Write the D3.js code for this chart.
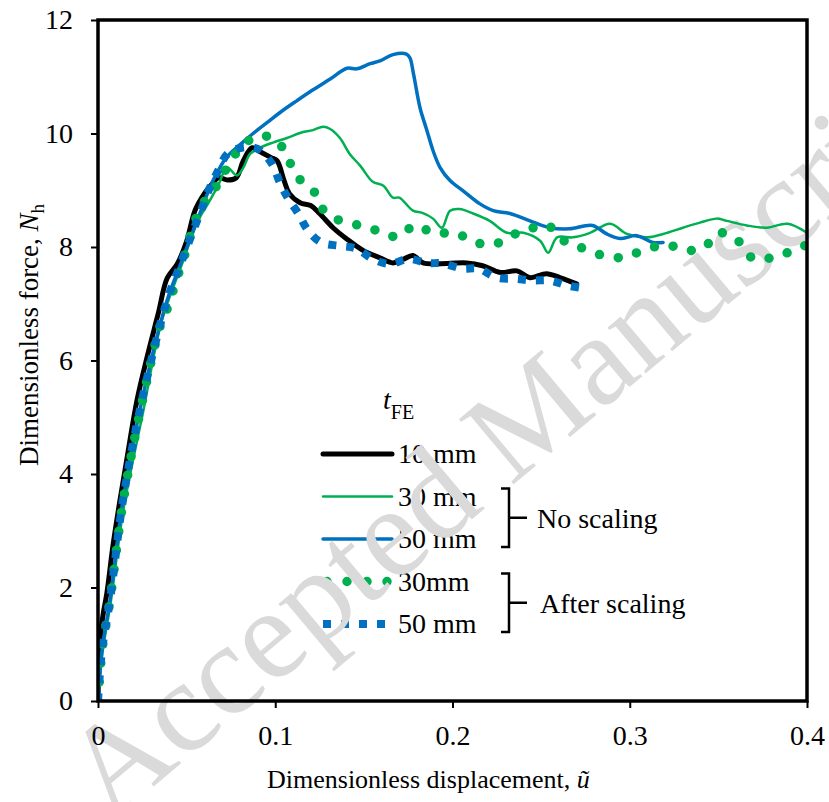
<!DOCTYPE html>
<html><head><meta charset="utf-8">
<script src="https://cdn.jsdelivr.net/npm/d3@7"></script>
<style>body{margin:0;background:#fff} svg{display:block} text{font-family:"Liberation Serif","Times New Roman",serif;fill:#000}</style>
</head><body><svg id="chart" width="829" height="802"></svg>
<script>
// ---- data ----
const xTicks = [0, 0.1, 0.2, 0.3, 0.4];
const xTickLabels = ["0", "0.1", "0.2", "0.3", "0.4"];
const yTicks = [0, 2, 4, 6, 8, 10, 12];
const yTickLabels = ["0", "2", "4", "6", "8", "10", "12"];

// 10 mm (black)
const s10mm = [[0,0],[0.0005,0.6],[0.0015,1.2],[0.003,1.55],[0.005,1.9],[0.0085,2.75],[0.0124,3.54],[0.017,4.4],[0.022,5.3],[0.028,6.1],[0.034,6.83],[0.039,7.45],[0.0447,7.7],[0.05,8.1],[0.0547,8.64],[0.060,8.94],[0.064,9.1],[0.068,9.22],[0.073,9.18],[0.078,9.22],[0.082,9.52],[0.087,9.75],[0.0925,9.66],[0.098,9.57],[0.101,9.52],[0.105,9.17],[0.108,8.94],[0.114,8.78],[0.12,8.73],[0.125,8.59],[0.1326,8.34],[0.140,8.15],[0.1495,7.94],[0.159,7.81],[0.1664,7.72],[0.172,7.78],[0.1777,7.85],[0.1834,7.72],[0.197,7.71],[0.208,7.72],[0.217,7.67],[0.227,7.55],[0.2364,7.58],[0.2437,7.46],[0.253,7.53],[0.2606,7.46],[0.27,7.35]];

// 30 mm, no scaling (green solid)
const s30mmNo = [[0,0],[0.0025,0.85],[0.007,1.7],[0.0145,3.4],[0.0255,5.1],[0.036,6.7],[0.0474,7.7],[0.0564,8.46],[0.062,8.76],[0.068,9.1],[0.0728,9.4],[0.0784,9.26],[0.082,9.4],[0.0858,9.64],[0.0914,9.75],[0.0987,9.84],[0.1066,9.92],[0.114,10.01],[0.1213,10.06],[0.127,10.12],[0.131,10.08],[0.1365,9.92],[0.142,9.64],[0.148,9.43],[0.155,9.15],[0.161,9.08],[0.1664,8.87],[0.170,8.87],[0.1777,8.64],[0.183,8.6],[0.189,8.5],[0.194,8.34],[0.1986,8.64],[0.204,8.67],[0.2116,8.59],[0.221,8.46],[0.2307,8.25],[0.24,8.25],[0.2494,8.11],[0.254,7.9],[0.259,8.17],[0.268,8.17],[0.2776,8.25],[0.2889,8.41],[0.2985,8.23],[0.31,8.17],[0.3188,8.23],[0.33,8.34],[0.3396,8.43],[0.349,8.5],[0.3548,8.46],[0.366,8.38],[0.3774,8.34],[0.389,8.41],[0.4,8.25]];

// 50 mm, no scaling (blue solid)
const s50mmNo = [[0,0],[0.0023,0.9],[0.0068,1.78],[0.0141,3.54],[0.0248,5.3],[0.039,7.06],[0.046,7.65],[0.053,8.23],[0.0587,8.69],[0.063,9.04],[0.0677,9.34],[0.073,9.6],[0.08,9.8],[0.0875,10.0],[0.0953,10.19],[0.1027,10.37],[0.1123,10.58],[0.1213,10.77],[0.131,10.96],[0.1405,11.15],[0.146,11.14],[0.1535,11.23],[0.159,11.28],[0.1664,11.39],[0.174,11.4],[0.176,11.33],[0.178,11.05],[0.1817,10.45],[0.1856,10.05],[0.189,9.7],[0.193,9.4],[0.1986,9.17],[0.206,8.99],[0.2155,8.76],[0.223,8.64],[0.2324,8.59],[0.2437,8.46],[0.255,8.34],[0.266,8.32],[0.279,8.38],[0.287,8.23],[0.2945,8.15],[0.304,8.2],[0.313,8.08],[0.3188,8.08]];

// 30 mm, after scaling (green round dots)
const s30mmSc = [[0,0],[0.0023,0.9],[0.0068,1.78],[0.0141,3.5],[0.0248,5.25],[0.036,6.7],[0.0406,7.02],[0.0434,7.36],[0.0474,7.7],[0.0547,8.46],[0.0604,8.82],[0.0677,9.11],[0.0733,9.43],[0.08,9.73],[0.0903,9.96],[0.101,9.87],[0.1072,9.55],[0.113,9.22],[0.122,8.97],[0.1275,8.64],[0.1354,8.48],[0.146,8.39],[0.1574,8.29],[0.1693,8.18],[0.1788,8.38],[0.1896,8.24],[0.2014,8.25],[0.2121,8.09],[0.223,8.04],[0.233,8.2],[0.2437,8.32],[0.2533,8.39],[0.2618,8.13],[0.2702,8.02],[0.2815,7.88],[0.2922,7.81],[0.2996,7.85],[0.3103,7.97],[0.321,8.04],[0.3317,7.94],[0.3419,7.99],[0.35,8.25],[0.361,8.11],[0.3695,7.8],[0.380,7.81],[0.389,7.9],[0.4,8.04]];

// 50 mm, after scaling (blue square dots)
const s50mmSc = [[0,0],[0.0023,0.9],[0.0068,1.78],[0.0141,3.54],[0.0248,5.3],[0.039,7.06],[0.046,7.65],[0.053,8.23],[0.0587,8.69],[0.063,9.04],[0.0677,9.34],[0.073,9.64],[0.081,9.75],[0.090,9.73],[0.098,9.47],[0.1027,9.13],[0.107,8.87],[0.113,8.59],[0.1185,8.29],[0.126,8.08],[0.1365,8.02],[0.146,7.97],[0.155,7.79],[0.1647,7.7],[0.175,7.79],[0.1856,7.72],[0.1946,7.71],[0.2054,7.62],[0.2144,7.62],[0.225,7.46],[0.2353,7.44],[0.2454,7.41],[0.255,7.41],[0.265,7.32],[0.2753,7.27]];

const legendLabels = ["10 mm", "30 mm", "50 mm", "30mm", "50 mm"];
const groupLabels = ["No scaling", "After scaling"];

// ---- drawing ----
const svg = d3.select("#chart");
const W = 829, H = 802;
const x = d3.scaleLinear().domain([0, 0.4]).range([98, 807]);
const y = d3.scaleLinear().domain([0, 12]).range([701, 20]);
const FS = 28;

svg.append("rect").attr("width", W).attr("height", H).attr("fill", "#fff");

const styles = [
  {data: s10mm,   color: "#000000", width: 5,   dash: null,   cap: "round"},
  {data: s30mmNo, color: "#00B050", width: 2.5, dash: null,   cap: "round"},
  {data: s50mmNo, color: "#0070C0", width: 3.5, dash: null,   cap: "round"},
  {data: s30mmSc, color: "#00B050", width: 9.5, dash: "0,19", cap: "round"},
  {data: s50mmSc, color: "#0070C0", width: 8,   dash: "8,10", cap: "butt"}
];

// legend (under watermark)
const legend = svg.append("g");
const rowY = [454, 496.5, 539, 581.5, 624];
const t = legend.append("text").attr("x", 383).attr("y", 409).attr("font-size", FS);
t.append("tspan").attr("font-style", "italic").text("t");
t.append("tspan").attr("font-size", 20).attr("dy", 10).text("FE");
styles.forEach((s, i) => {
  const x0 = i === 3 ? 327 : 323;
  legend.append("line").attr("x1", x0).attr("x2", 392).attr("y1", rowY[i]).attr("y2", rowY[i])
    .attr("stroke", s.color).attr("stroke-width", s.width).attr("stroke-linecap", s.cap)
    .attr("stroke-dasharray", i === 3 ? "0,20" : s.dash);
  legend.append("text").attr("x", 398).attr("y", rowY[i] + 9).attr("font-size", FS).text(legendLabels[i]);
});
[[1, 2], [3, 4]].forEach((pair, gi) => {
  const top = rowY[pair[0]] - 8, bot = rowY[pair[1]] + 8, mid = (top + bot) / 2;
  legend.append("path").attr("d", `M501,${top}H509V${bot}H501M509,${mid}H527`)
    .attr("fill", "none").attr("stroke", "#000").attr("stroke-width", 2.5);
  legend.append("text").attr("x", gi === 0 ? 537 : 540).attr("y", mid + 10).attr("font-size", FS).text(groupLabels[gi]);
});

// watermark
svg.append("text").attr("transform", "translate(110,823) rotate(-40)")
  .attr("font-size", 130).style("fill", "#dadada").text("Accepted Manuscript");

// data
svg.append("clipPath").attr("id", "clip").append("rect")
  .attr("x", 98).attr("y", 15).attr("width", 709).attr("height", 686);
const line = d3.line().x(d => x(d[0])).y(d => y(d[1])).curve(d3.curveCatmullRom.alpha(0.5));
const plot = svg.append("g").attr("clip-path", "url(#clip)");
styles.forEach(s => {
  plot.append("path").datum(s.data).attr("d", line).attr("fill", "none")
    .attr("stroke", s.color).attr("stroke-width", s.width)
    .attr("stroke-linecap", s.cap).attr("stroke-linejoin", "round")
    .attr("stroke-dasharray", s.dash);
});

// frame
svg.append("rect").attr("x", 98).attr("y", 20).attr("width", 709).attr("height", 681)
  .attr("fill", "none").attr("stroke", "#000").attr("stroke-width", 3.5);

// axes
const yAx = svg.append("g").attr("transform", "translate(98,0)")
  .call(d3.axisLeft(y).tickValues(yTicks).tickFormat((d, i) => yTickLabels[i]).tickSize(7).tickPadding(18));
const xAx = svg.append("g").attr("transform", "translate(0,701)")
  .call(d3.axisBottom(x).tickValues(xTicks).tickFormat((d, i) => xTickLabels[i]).tickSize(7).tickPadding(17));
[yAx, xAx].forEach(a => {
  a.select(".domain").remove();
  a.selectAll(".tick line").attr("stroke", "#000").attr("stroke-width", 2);
  a.selectAll(".tick text").attr("font-size", FS).attr("font-family", "Liberation Serif").style("fill", "#000");
});

// axis titles
const xt = svg.append("text").attr("x", 267).attr("y", 788).attr("font-size", 26);
xt.append("tspan").text("Dimensionless displacement, ");
xt.append("tspan").attr("font-style", "italic").text("\u0169");

const yt = svg.append("text").attr("transform", "translate(38,335) rotate(-90)")
  .attr("text-anchor", "middle").attr("font-size", 27);
yt.append("tspan").text("Dimensionless force, ");
yt.append("tspan").attr("font-style", "italic").text("N");
yt.append("tspan").attr("font-size", 19).attr("dy", 6).text("h");
</script></body></html>
